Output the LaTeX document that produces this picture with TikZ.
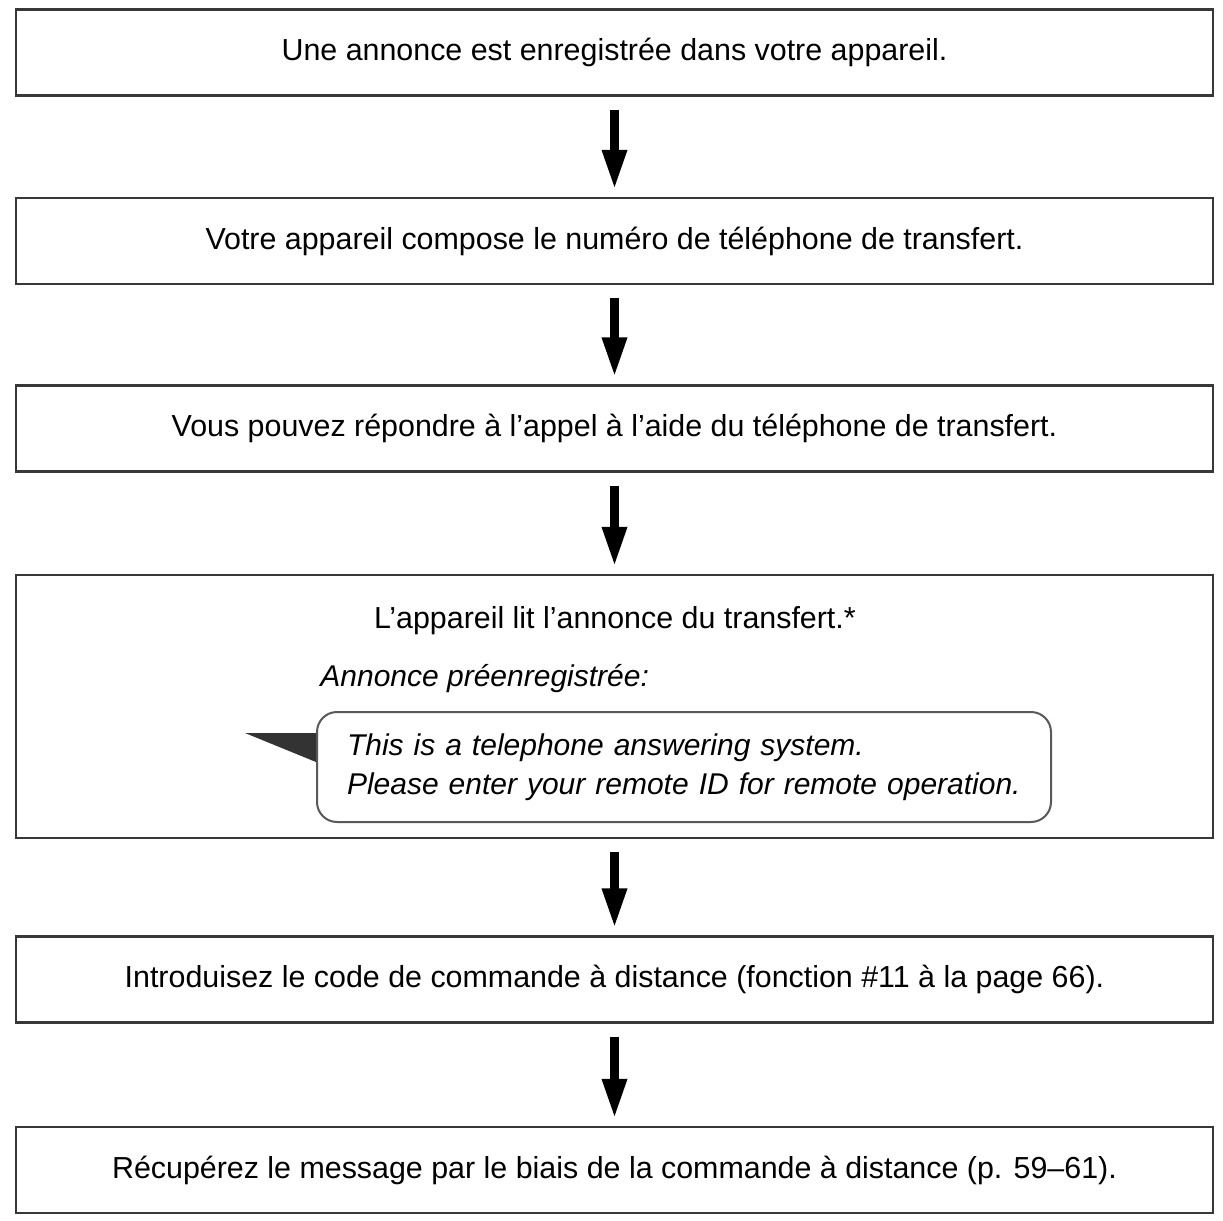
\documentclass[tikz,border=0pt]{standalone}
\usepackage{fontspec}
\setmainfont{Liberation Sans}
\usetikzlibrary{arrows.meta}

\begin{document}
\begin{tikzpicture}[x=0.5pt,y=-0.5pt]
            \useasboundingbox (0,0) rectangle (1223,1221);
            \begin{scope}[every node/.style={draw=black!78,line width=1.2pt,
                          minimum width=598.5pt,minimum height=43pt,
                          font=\fontsize{15.2}{18}\selectfont}]
                \node (announce) at (614.5,52.5) {Une annonce est enregistrée dans votre appareil.};
                \node (dial) at (614.5,241) {Votre appareil compose le numéro de téléphone de transfert.};
                \node (answer) at (614.5,428.5) {Vous pouvez répondre à l’appel à l’aide du téléphone de transfert.};
                \node[minimum height=131.5pt] (play) at (614.5,706.5) {};
                \node (code) at (614.5,979.5) {Introduisez le code de commande à distance (fonction \#11 à la page 66).};
                \node (fetch) at (614.5,1170) {Récupérez le message par le biais de la commande à distance (p. 59–61).};
            \end{scope}

            \begin{scope}[every node/.style={inner sep=0pt,font=\fontsize{15}{19.5}\selectfont}]
                \node[font=\fontsize{15.2}{18}\selectfont] (playtext) at (615,621) {L’appareil lit l’annonce du transfert.*};
                \node[anchor=west] (preset) at (320,679) {\itshape Annonce préenregistrée:};
                \node[draw=black!65,line width=1pt,rounded corners=10pt,fill=white,
                      anchor=west,inner xsep=15pt,inner ysep=9pt,
                      text width=337pt,minimum height=55pt,align=left] (bubble) at (316,767)
                      {\itshape This is a telephone answering system.\\
                       Please enter your remote ID for remote operation.};
            \end{scope}
            \fill[black!80] ([yshift=17pt]bubble.west) -- ++(-35.5pt,0) -- ([yshift=2.5pt]bubble.west) -- cycle;

            \begin{scope}[>={Triangle[length=20pt,width=11.5pt]},
                          every edge/.style={draw=black, line width=4.5pt,
                                             shorten <=6.5pt, shorten >=3.5pt}]
                \path[->] (announce) edge (dial);
                \path[->] (dial) edge (answer);
                \path[->] (answer) edge (play);
                \path[->] (play) edge (code);
                \path[->] (code) edge (fetch);
            \end{scope}

\end{tikzpicture}
\end{document}
